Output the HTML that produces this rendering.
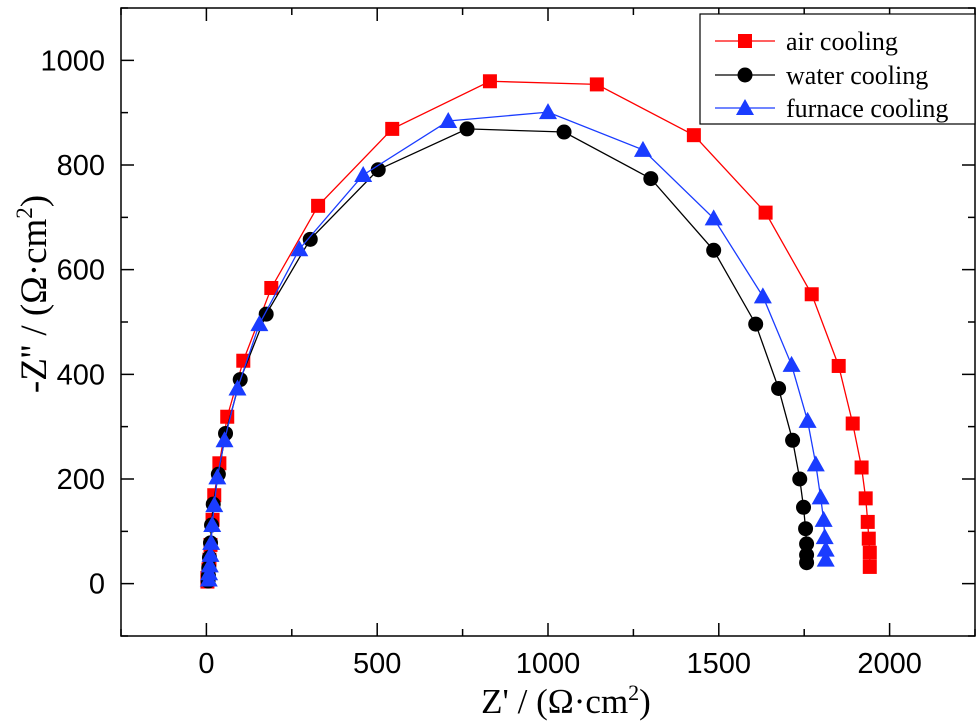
<!DOCTYPE html>
<html><head><meta charset="utf-8"><style>
body{margin:0;background:#fff}
svg{display:block}
</style></head><body>
<svg id="chart" width="980" height="727" viewBox="0 0 980 727" xmlns="http://www.w3.org/2000/svg"></svg>
<script>
const xTicks=[0,500,1000,1500,2000];
const yTicks=[0,200,400,600,800,1000];
const airX=[3,3,6,9,12,18,23,38,61,108,190,327,544,830,1143,1427,1637,1772,1851,1892,1918,1930,1936,1939,1942,1942];
const airY=[4,11,27,46,74,122,169,230,319,426,565,722,869,960,954,857,709,553,416,306,222,163,118,86,59,32];
const waterX=[5,6,7,9,12,15,20,35,56,99,175,304,503,763,1047,1301,1485,1608,1675,1716,1737,1748,1754,1757,1757,1757];
const waterY=[5,15,30,50,78,112,152,209,287,390,515,658,791,869,863,774,637,496,373,274,200,146,105,76,55,40];
const furnX=[7,8,10,12,14,17,23,32,53,91,155,272,459,708,1000,1278,1485,1629,1713,1760,1784,1798,1807,1810,1813,1813];
const furnY=[8,20,35,55,78,112,150,203,274,373,496,639,781,884,901,829,698,549,418,311,228,165,122,89,65,46];
const L=121,R=975,T=8,B=636,xmin=-250,xmax=2250,ymin=-100,ymax=1100;
const sx=v=>L+(v-xmin)/(xmax-xmin)*(R-L);
const sy=v=>B-(v-ymin)/(ymax-ymin)*(B-T);
const svg=document.getElementById('chart');
const NS='http://www.w3.org/2000/svg';
function mk(tag,attrs,parent){const e=document.createElementNS(NS,tag);for(const k in attrs)e.setAttribute(k,attrs[k]);(parent||svg).appendChild(e);return e;}
const frame=mk('rect',{x:L,y:T,width:R-L,height:B-T,fill:'none',stroke:'#000','stroke-width':1.5});


for(let v=-250;v<=2250;v+=250){const maj=v%500===0;const len=maj?13:7;const x=sx(v);
 const t=mk('path',{d:`M${x},${B}v${-len}M${x},${T}v${len}`,stroke:'#000','stroke-width':1.5});
 
 }
for(let v=-100;v<=1100;v+=100){const maj=v%200===0;const len=maj?13:7;const y=sy(v);
 const t=mk('path',{d:`M${L},${y}h${len}M${R},${y}h${-len}`,stroke:'#000','stroke-width':1.5});
 
 }
xTicks.forEach(v=>{const t=mk('text',{x:sx(v),y:B+37,'text-anchor':'middle','font-family':'Liberation Sans, sans-serif','font-size':29});t.textContent=v;
 
 });
yTicks.forEach(v=>{const t=mk('text',{x:L-16,y:sy(v)+10,'text-anchor':'end','font-family':'Liberation Sans, sans-serif','font-size':29});t.textContent=v;
 
 });
const xt=mk('text',{x:566,y:713,'text-anchor':'middle','font-family':'Liberation Serif, serif','font-size':35});
xt.innerHTML="Z' / (Ω·cm<tspan dy='-13' font-size='22'>2</tspan><tspan dy='13'>)</tspan>";


const yt=mk('text',{x:0,y:0,'text-anchor':'middle','font-family':'Liberation Serif, serif','font-size':37,transform:'translate(46,294) rotate(-90)'});
yt.innerHTML="-Z'' / (Ω·cm<tspan dy='-14' font-size='23'>2</tspan><tspan dy='14'>)</tspan>";


function marker(kind,x,y,color,parent){
 if(kind==='sq')return mk('rect',{x:x-7,y:y-7,width:14,height:14,fill:color},parent);
 if(kind==='ci')return mk('circle',{cx:x,cy:y,r:7.5,fill:color},parent);
 return mk('path',{d:`M${x},${y-9}L${x+9},${y+7}L${x-9},${y+7}Z`,fill:color},parent);
}
function series(name,X,Y,color,kind){
 const g=mk('g',{});
 
 
 const p=mk('polyline',{points:X.map((v,i)=>sx(v)+','+sy(Y[i])).join(' '),fill:'none',stroke:color,'stroke-width':1.3},g);
 
 
 X.forEach((v,i)=>{const m=marker(kind,sx(v),sy(Y[i]),color,g);
  
  });
}
series('air-cooling',airX,airY,'#ff0000','sq');
series('water-cooling',waterX,waterY,'#000000','ci');
series('furnace-cooling',furnX,furnY,'#1a3cff','tr');
const lg=mk('g',{});


mk('rect',{x:700,y:14,width:275,height:110,fill:'#fff',stroke:'#000','stroke-width':1.2},lg);
[['air cooling','#ff0000','sq',41],['water cooling','#000','ci',75],['furnace cooling','#1a3cff','tr',108]].forEach(([lab,c,k,y])=>{
 const e=mk('g',{},lg);
 
 
 mk('line',{x1:715,y1:y,x2:775,y2:y,stroke:c,'stroke-width':1.3},e);
 marker(k,745,y,c,e);
 const t=mk('text',{x:786,y:y+9,'font-family':'Liberation Serif, serif','font-size':26},e);t.textContent=lab;
});
</script>
</body></html>
